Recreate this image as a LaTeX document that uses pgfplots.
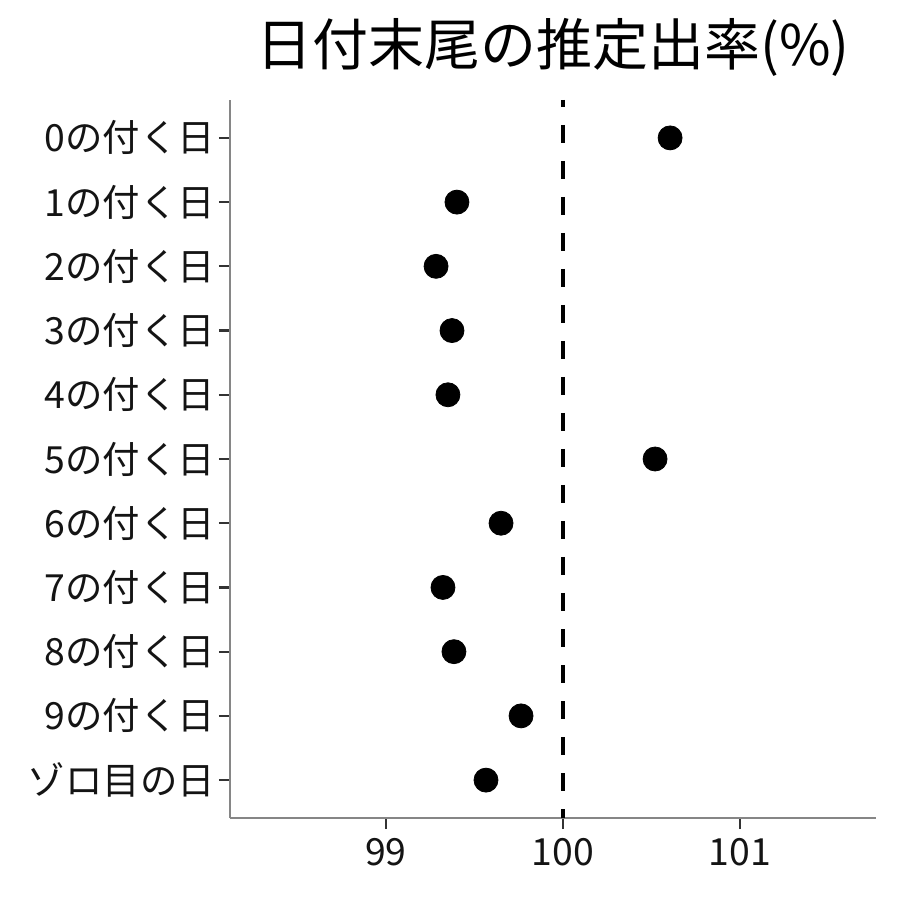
\documentclass[border=0pt]{standalone}
\usepackage{pgfplots}
\pgfplotsset{compat=1.18}
\usepackage{fontspec}
\setmainfont{Noto Sans CJK JP}
\begin{document}
\begin{tikzpicture}
\begin{axis}[
  at={(0,0)}, anchor=south west,
  scale only axis,
  width=323pt, height=359pt,
  xmin=98.119, xmax=101.768,
  ymin=-0.59, ymax=10.59,
  axis x line*=bottom, axis y line*=left,
  axis line style={draw=gray!95, line width=0.55pt, -},
  xtick={99,100,101},
  ytick={0,1,2,3,4,5,6,7,8,9,10},
  yticklabels={ゾロ目の日,9の付く日,8の付く日,7の付く日,6の付く日,5の付く日,4の付く日,3の付く日,2の付く日,1の付く日,0の付く日},
  tick align=outside,
  major tick length=5.5pt,
  tick style={draw=black!80, line width=1.1pt},
  ticklabel style={font=\fontsize{18.7}{20}\selectfont, text=black!92},
  /pgf/number format/assume math mode=true,
  xticklabel style={yshift=-1pt},
  yticklabel style={xshift=1.5pt},
  title={日付末尾の推定出率(\%)},
  title style={font=\fontsize{28}{30}\selectfont, yshift=2pt},
  clip=false,
]
\draw[black, line width=1.9pt, dash pattern=on 9pt off 9pt, dash phase=5.5pt] (axis cs:100,10.59) -- (axis cs:100,-0.59);
\addplot[only marks, mark=*, mark size=6pt, color=black] coordinates {
(100.605,10) (99.401,9) (99.283,8) (99.373,7) (99.350,6) (100.520,5)
(99.650,4) (99.322,3) (99.384,2) (99.763,1) (99.565,0)
};
\end{axis}
\path[use as bounding box] (-115pt,-41pt) rectangle (335pt,409pt);
\end{tikzpicture}
\end{document}
